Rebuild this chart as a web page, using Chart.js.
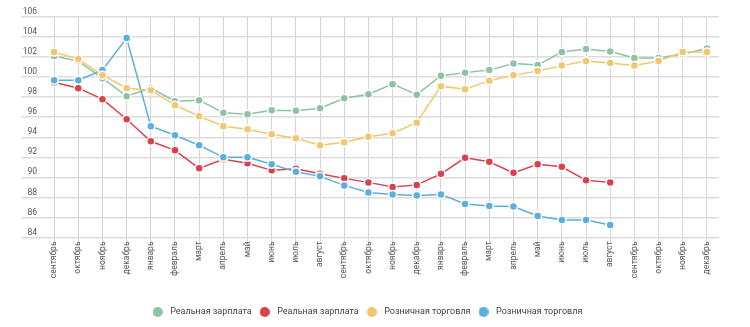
<!DOCTYPE html>
<html lang="ru">
<head>
<meta charset="utf-8">
<title>Зарплата и розничная торговля</title>
<script src="https://cdn.jsdelivr.net/npm/chart.js@4"></script>
<style>
    html, body { margin: 0; padding: 0; background: #fff; }
    #wrap { width: 750px; height: 327px; }
</style>
</head>
<body>
<div id="wrap"><canvas id="chartIndices"></canvas></div>
<script>
    const meses = [
        "сентябрь", "октябрь", "ноябрь", "декабрь", "январь", "февраль", "март", "апрель",
        "май", "июнь", "июль", "август", "сентябрь", "октябрь", "ноябрь", "декабрь",
        "январь", "февраль", "март", "апрель", "май", "июнь", "июль", "август",
        "сентябрь", "октябрь", "ноябрь", "декабрь"
    ];

    const zarplata1 = [102.1, 101.6, 99.9, 98.1, 98.9, 97.6, 97.7, 96.45, 96.3, 96.7, 96.65, 96.9,
        97.9, 98.3, 99.3, 98.25, 100.15, 100.45, 100.7, 101.35, 101.2, 102.5, 102.8, 102.55,
        101.9, 101.9, 102.3, 102.85];
    const zarplata2 = [99.5, 98.9, 97.8, 95.8, 93.6, 92.7, 90.9, 91.8, 91.4, 90.7, 90.85, 90.35,
        89.9, 89.5, 89.05, 89.25, 90.35, 91.95, 91.55, 90.45, 91.3, 91.05, 89.7, 89.5,
        null, null, null, null];
    const torgovlya1 = [102.5, 101.8, 100.2, 98.9, 98.7, 97.2, 96.1, 95.1, 94.8, 94.3, 93.9, 93.2,
        93.5, 94.05, 94.4, 95.45, 99.1, 98.8, 99.65, 100.2, 100.6, 101.15, 101.6, 101.4,
        101.15, 101.6, 102.5, 102.5];
    const torgovlya2 = [99.7, 99.7, 100.7, 103.9, 95.1, 94.2, 93.2, 92.0, 92.0, 91.3, 90.55, 90.1,
        89.2, 88.5, 88.3, 88.2, 88.3, 87.35, 87.15, 87.1, 86.15, 85.75, 85.75, 85.25,
        null, null, null, null];

    const yMin = 84, yMax = 106, yStep = 2;

    Chart.defaults.font.family = "Roboto, 'Liberation Sans', sans-serif";
    Chart.defaults.color = "#555";

    function serie(label, data, cor, ordem) {
        return {
            label: label,
            data: data,
            borderColor: cor,
            backgroundColor: cor,
            pointBackgroundColor: cor,
            pointBorderColor: "#fff",
            pointBorderWidth: 1.5,
            pointRadius: 4,
            borderWidth: 1.5,
            tension: 0,
            spanGaps: false,
            order: ordem
        };
    }

    // bolinha da legenda (imagem, para o texto ficar mais afastado do marcador)
    function bolinha(cor) {
        const c = document.createElement("canvas");
        c.width = 10;
        c.height = 10;
        const ctx = c.getContext("2d");
        ctx.fillStyle = cor;
        ctx.beginPath();
        ctx.arc(5, 5, 5, 0, Math.PI * 2);
        ctx.fill();
        return c;
    }

    new Chart(document.getElementById("chartIndices"), {
        type: "line",
        data: {
            labels: meses,
            datasets: [
                serie("Реальная зарплата", zarplata1, "#8ec3a2", 3),
                serie("Реальная зарплата", zarplata2, "#d9414c", 2),
                serie("Розничная торговля", torgovlya1, "#f2c66d", 0),
                serie("Розничная торговля", torgovlya2, "#5aafe0", 1)
            ]
        },
        options: {
            responsive: true,
            maintainAspectRatio: false,
            animation: false,
            layout: { padding: { top: 17, left: 13, right: 31, bottom: 0.5 } },
            plugins: {
                tooltip: { enabled: false },
                legend: {
                    position: "bottom",
                    labels: {
                        usePointStyle: true,
                        pointStyleWidth: 16,
                        boxHeight: 9,
                        padding: 5,
                        color: "#444",
                        font: { size: 9 },
                        // legenda na ordem dos datasets, não na ordem de desenho
                        sort: (a, b) => a.datasetIndex - b.datasetIndex,
                        generateLabels: chart => {
                            const itens = Chart.defaults.plugins.legend.labels.generateLabels(chart);
                            itens.forEach(item => {
                                item.pointStyle = bolinha(chart.data.datasets[item.datasetIndex].borderColor);
                            });
                            return itens;
                        }
                    }
                }
            },
            scales: {
                x: {
                    offset: true,
                    border: { display: false },
                    grid: { color: "#d4d4d4", lineWidth: 1, tickLength: 6, offset: false },
                    ticks: {
                        autoSkip: false,
                        minRotation: 90,
                        maxRotation: 90,
                        padding: -2,
                        font: { size: 8.5 }
                    },
                    afterFit: scale => { scale.height = 65; }
                },
                y: {
                    min: yMin,
                    max: yMax,
                    border: { display: false },
                    grid: { color: "#dcdcdc", lineWidth: 1.5, tickLength: 21 },
                    ticks: {
                        stepSize: yStep,
                        padding: -16,
                        labelOffset: -5,
                        font: { size: 8.5 }
                    },
                    afterFit: scale => { scale.width = 29; }
                }
            }
        }
    });
</script>
</body>
</html>
